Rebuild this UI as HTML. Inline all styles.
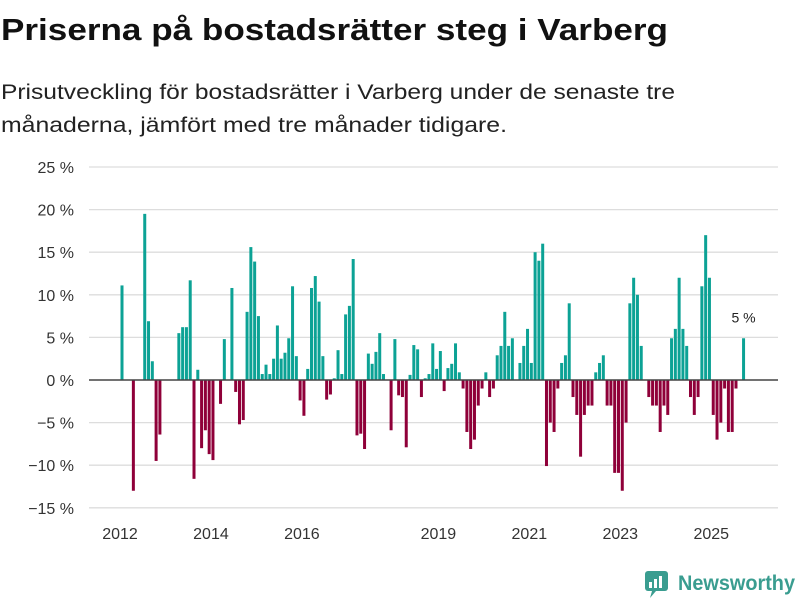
<!DOCTYPE html>
<html><head><meta charset="utf-8"><style>
body{margin:0;background:#fff;}
svg{display:block;font-family:"Liberation Sans","DejaVu Sans",sans-serif;}
</style></head><body>
<svg id="chart" width="800" height="600" viewBox="0 0 800 600">
<text x="1" y="40" font-size="31" font-weight="bold" fill="#111" textLength="667" lengthAdjust="spacingAndGlyphs">Priserna på bostadsrätter steg i Varberg</text>
<text x="1" y="99" font-size="21" fill="#222" textLength="674" lengthAdjust="spacingAndGlyphs">Prisutveckling för bostadsrätter i Varberg under de senaste tre</text>
<text x="1" y="132" font-size="21" fill="#222" textLength="506" lengthAdjust="spacingAndGlyphs">månaderna, jämfört med tre månader tidigare.</text>
<g id="grid"></g><g id="bars"></g><g id="axes"></g>
<g>
<rect x="645" y="571" width="23" height="20" rx="3" fill="#3a9d90"/>
<path d="M652 591 L656 591 L650 598 Z" fill="#3a9d90"/>
<rect x="649" y="582" width="3" height="6" fill="#fff"/><rect x="654" y="579" width="3" height="9" fill="#fff"/><rect x="659" y="576" width="3" height="12" fill="#fff"/>
<text x="678" y="590" font-size="21" font-weight="bold" fill="#3a9d90" textLength="117" lengthAdjust="spacingAndGlyphs">Newsworthy</text>
</g>
</svg>
<script>
const yTicks=[25,20,15,10,5,0,-5,-10,-15];
const yearLabels=["2012","2014","2016","2019","2021","2023","2025"];
const yearMonthIndex=[0,24,48,84,108,132,156];
const values=[11.1,null,null,-13,null,null,19.5,6.9,2.2,-9.5,-6.4,null,null,null,null,5.5,6.2,6.2,11.7,-11.6,1.2,-8.0,-5.9,-8.7,-9.4,null,-2.8,4.8,null,10.8,-1.4,-5.2,-4.7,8.0,15.6,13.9,7.5,0.7,1.8,0.7,2.5,6.4,2.5,3.2,4.9,11.0,2.8,-2.4,-4.2,1.3,10.8,12.2,9.2,2.8,-2.3,-1.7,0.2,3.5,0.7,7.7,8.7,14.2,-6.5,-6.3,-8.1,3.1,1.9,3.3,5.5,0.7,null,-5.9,4.8,-1.8,-2.0,-7.9,0.6,4.1,3.6,-2.0,0.2,0.7,4.3,1.3,3.4,-1.3,1.4,1.9,4.3,0.9,-1.0,-6.1,-8.1,-7.0,-3.0,-1.0,0.9,-2.0,-1.0,2.9,4.0,8.0,4.0,4.9,null,2.0,4.0,6.0,2.0,15,14,16,-10.1,-5,-6.1,-1,2,2.9,9,-2,-4.1,-9,-4.1,-3,-3,0.9,2,2.9,-3,-3,-10.9,-10.9,-13,-5,9,12,10,4,null,-2,-3,-3,-6.1,-3,-4.1,4.9,6,12,6,4,-2,-4.1,-2,11,17,12,-4.1,-7,-5,-1,-6.1,-6.1,-1,null,4.9];
const lastLabel="5 %";
const NS="http://www.w3.org/2000/svg";
const y=v=>380-v*8.52;
const x=i=>120+i*3.79;
function mk(tag,attrs,parent){const e=document.createElementNS(NS,tag);for(const k in attrs)e.setAttribute(k,attrs[k]);parent.appendChild(e);return e;}
const grid=document.getElementById('grid'),bars=document.getElementById('bars'),axes=document.getElementById('axes');
yTicks.forEach(t=>{
  if(t!==0){const l=mk('line',{x1:89,x2:778,y1:y(t),y2:y(t),stroke:'#dddddd','stroke-width':1.3},grid);
  
  }
  const tx=mk('text',{x:74,y:y(t)+6,'font-size':16,fill:'#333','text-anchor':'end'},axes);
  tx.textContent=(t<0?'−'+(-t):t)+' %';
  
  
});
values.forEach((v,i)=>{
  if(v===null)return;
  const r=mk('rect',{x:x(i)+0.5,y:v>=0?y(v):380,width:3,height:Math.abs(y(v)-380),fill:v>=0?'#0ca295':'#8f0039'},bars);
  
  
});
const z=mk('line',{x1:89,x2:778,y1:380,y2:380,stroke:'#444','stroke-width':1.6},axes);


yearLabels.forEach((lab,k)=>{
  const t=mk('text',{x:x(yearMonthIndex[k]),y:539,'font-size':16,fill:'#333','text-anchor':'middle'},axes);
  t.textContent=lab;
  
  
});
const li=values.length-1;
const ann=mk('text',{x:x(li)+2,y:y(values[li])-16,'font-size':14,fill:'#222','text-anchor':'middle'},axes);
ann.textContent=lastLabel;


</script>
</body></html>
